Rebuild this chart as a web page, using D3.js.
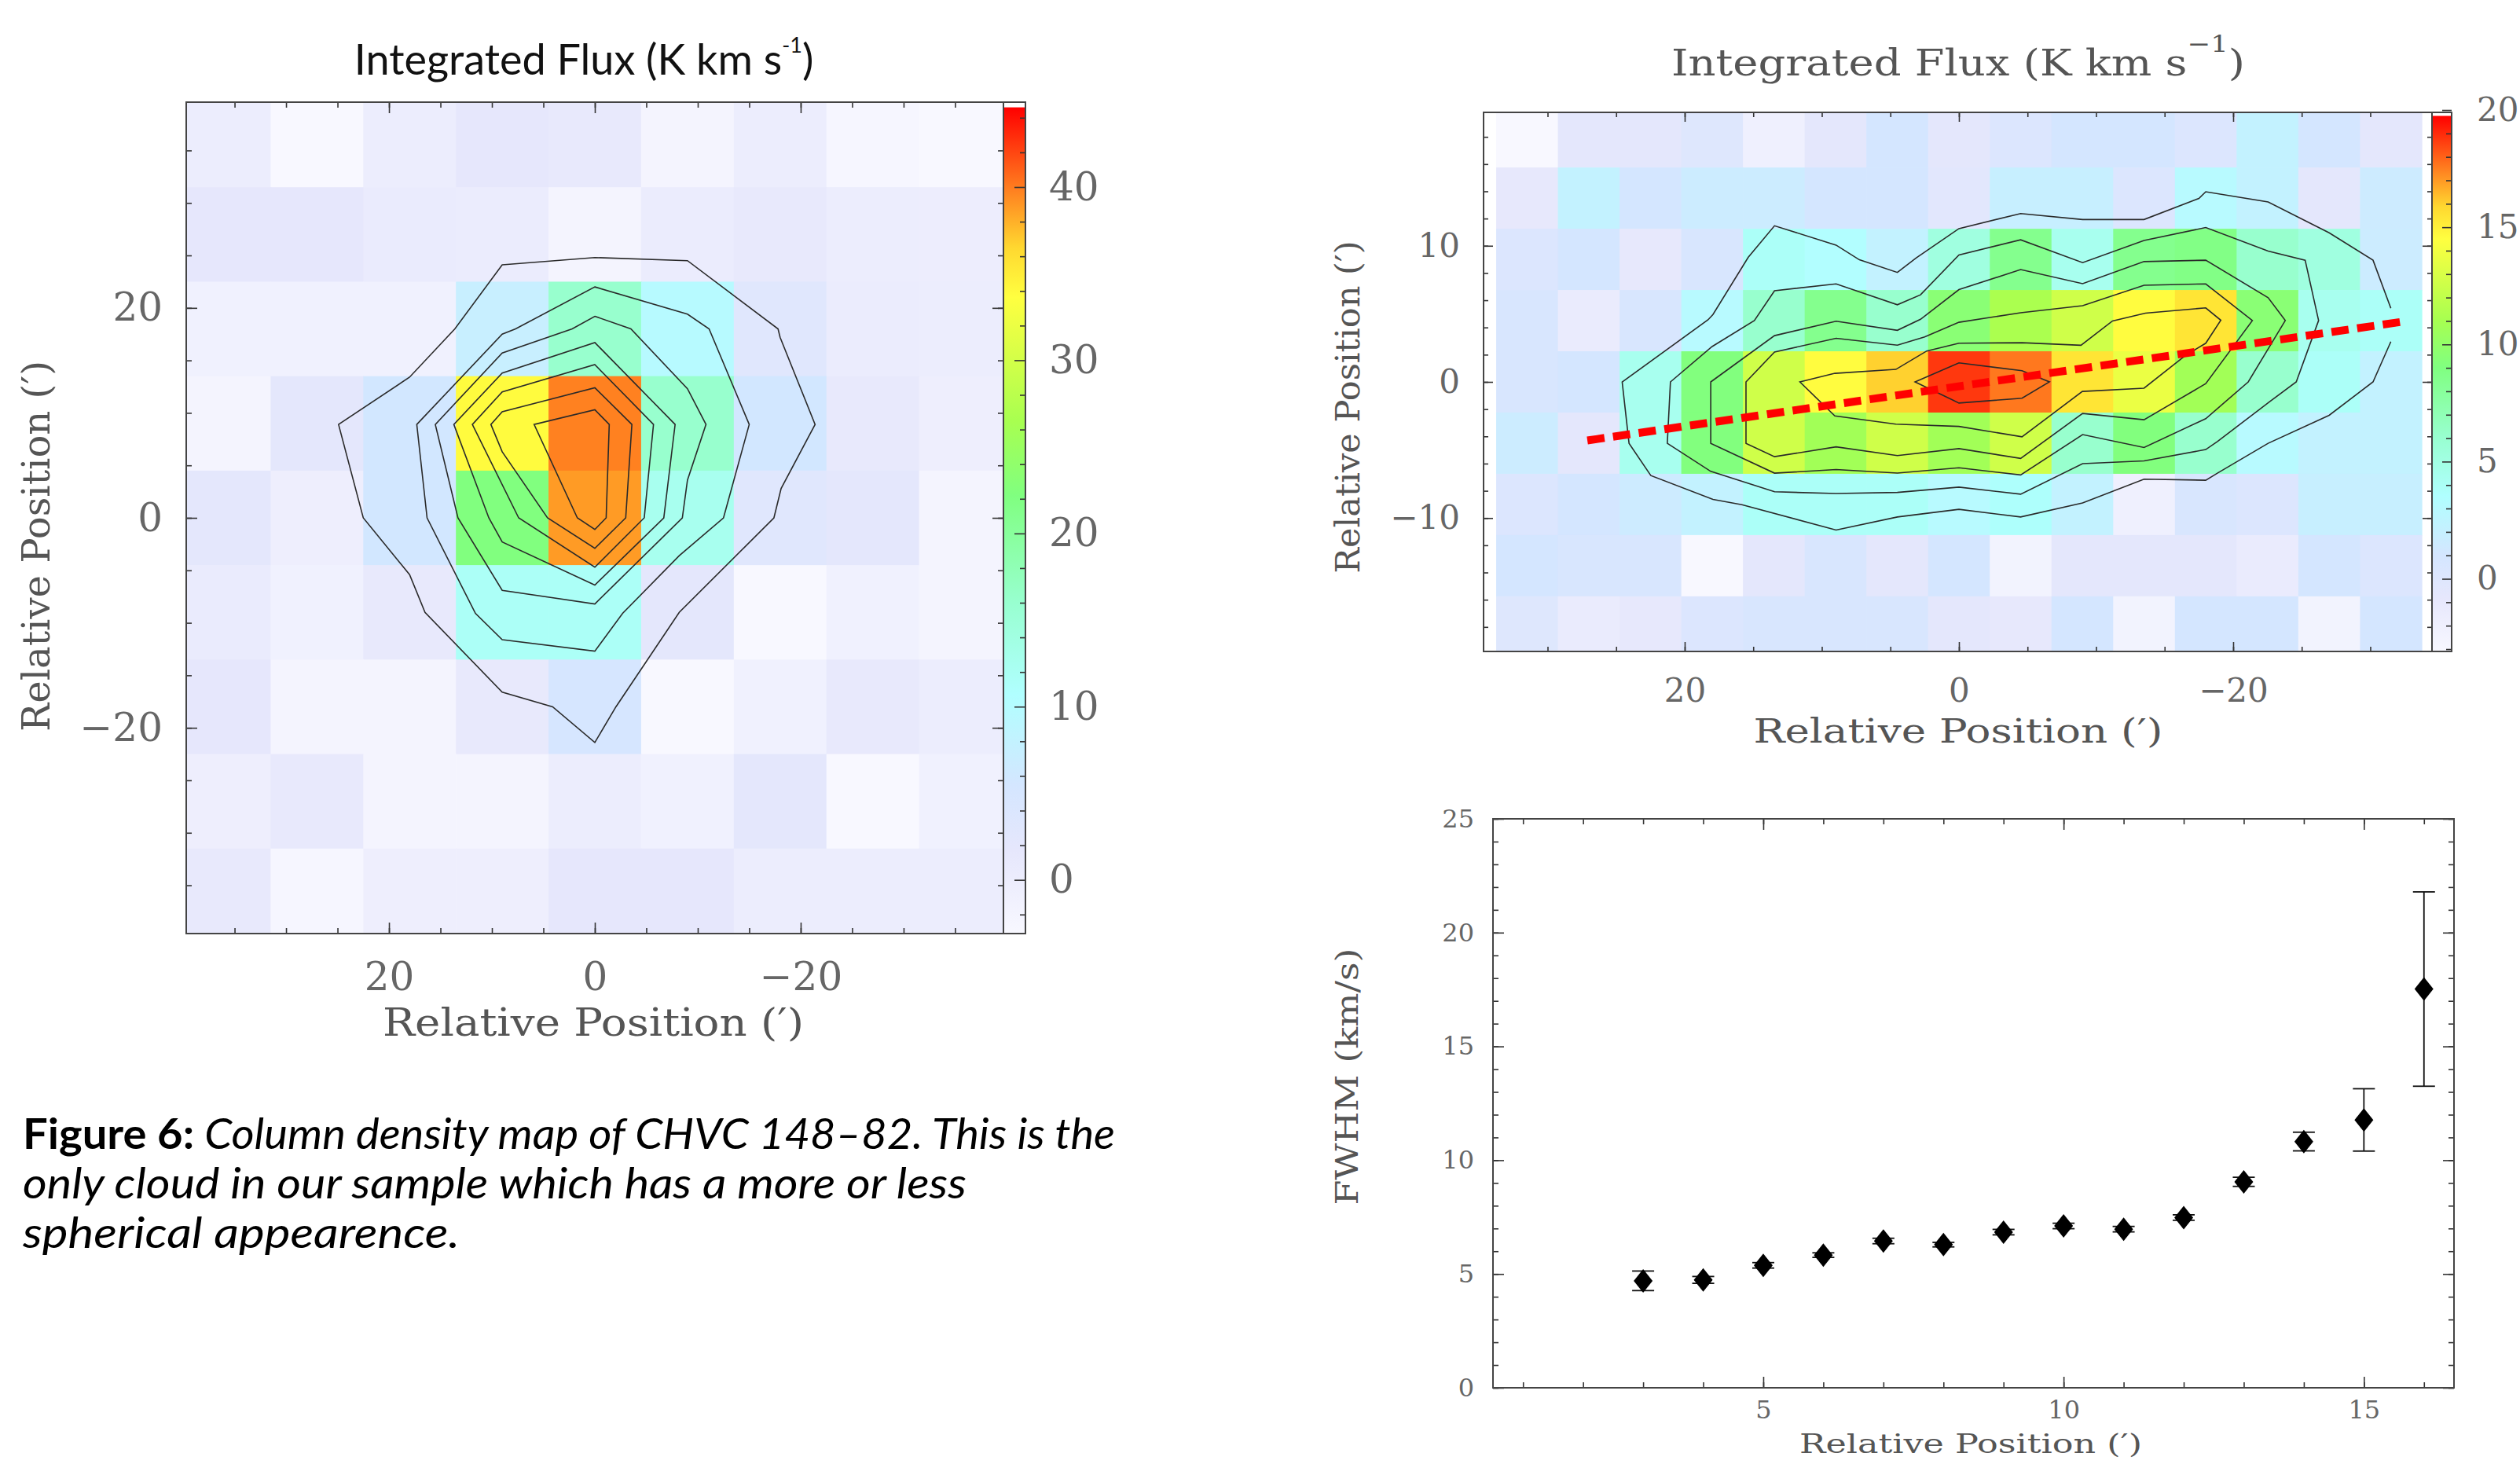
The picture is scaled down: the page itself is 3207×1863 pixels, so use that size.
<!DOCTYPE html>
<meta charset="utf-8">
<style>
body { margin: 0; background: #fff; }
svg { display: block; }
.contour { fill: none; stroke: #2a2a2a; stroke-width: 1.6px; }
.frame { fill: none; stroke: #444; stroke-width: 2px; }
</style>
<svg width="3207" height="1863"></svg>
<script src="https://d3js.org/d3.v7.min.js"></script>
<script>

// ---- left map: 9' pixels, integrated flux (K km/s) ----
var leftX = [36, 27, 18, 9, 0, -9, -18, -27, -36];
var leftY = [36, 27, 18, 9, 0, -9, -18, -27, -36];
var leftFlux = [
  [0.1, -3.1, 0.1, 1.7, 1.2, -2.0, 0.1, -2.6, -3.1],
  [1.7, 1.7, 0.6, 0.4, -2.0, 0.4, 1.2, 0.1, -0.1],
  [-1.0, -1.0, -1.0, 7.3, 16.1, 9.7, 2.9, 0.4, 0.1],
  [-2.0, 2.1, 5.8, 33.9, 39.8, 16.1, 5.8, 1.2, -0.4],
  [2.1, -0.4, 5.8, 22.3, 38.8, 12.5, 2.9, 2.1, -2.0],
  [0.6, -1.0, 1.2, 11.6, 11.6, 2.1, -3.1, -1.0, -2.0],
  [1.7, -2.0, -2.0, 1.2, 5.1, -3.1, -1.0, 1.2, 0.1],
  [-0.4, 1.2, -2.0, -2.0, 0.1, -1.0, 2.1, -3.1, -1.0],
  [1.2, -2.6, -0.4, -0.4, 1.7, 1.7, 0.1, 0.1, 0.1]
];
var leftContours = [
  [[9.0,24.1],[0,24.8],[-9.0,24.5],[-17.8,18],[-18.0,17.2],[-21.4,8.9],[-18.1,2.8],[-17.4,0],[-8.2,-9.0],[-2.05,-18],[0,-21.4],[4.1,-18],[9.0,-16.6],[16.5,-9.0],[18.0,-5.4],[22.5,0],[24.9,8.9],[18.0,13.4],[13.6,18]],
  [[0,22.0],[-9.0,19.4],[-11.1,18],[-15.0,8.9],[-12.5,0],[-8.2,-3.6],[-2.7,-9.1],[0,-12.7],[9.0,-11.6],[11.6,-9.1],[16.3,0],[17.3,8.9],[9.0,17.5],[7.7,18]],
  [[0,19.2],[-3.5,18],[-9.0,12.3],[-10.8,8.9],[-9.0,3.6],[-8.5,0],[0,-8.2],[9.0,-6.9],[13.3,0],[15.5,8.9],[9.0,15.7],[2.2,18]],
  [[0,16.7],[-7.8,8.9],[-6.7,0],[0,-6.4],[9.0,-2.3],[10.3,0],[13.7,8.9],[9.0,13.8]],
  [[0,14.6],[-5.7,8.9],[-4.8,0],[0,-4.7],[7.4,0],[11.9,8.9],[9.0,12.0]],
  [[0,12.4],[-3.6,8.9],[-3.0,0],[0,-2.9],[4.6,0],[9.0,6.3],[10.1,8.9],[9.0,10.1]],
  [[0,10.3],[-1.4,8.9],[-1.1,0],[0,-1.1],[1.7,0],[5.9,8.9]]
];

// ---- right map: 4.5' pixels ----
var rightX = [31.5, 27, 22.5, 18, 13.5, 9, 4.5, 0, -4.5, -9, -13.5, -18, -22.5, -27, -31.5];
var rightY = [18, 13.5, 9, 4.5, 0, -4.5, -9, -13.5, -18];
var rightFlux = [
  [-3.1, -0.6, -0.6, 0.0, -2.0, -0.6, 1.0, -0.6, 0.2, 1.0, 1.0, 0.2, 2.2, 1.0, -0.6],
  [-1.0, 2.2, 1.0, 1.6, 1.6, 1.0, 1.0, -0.4, 1.9, 1.9, 0.2, 3.0, 2.2, -0.6, 1.5],
  [0.2, 1.0, -1.0, 0.6, 3.9, 3.4, 2.2, 5.2, 8.5, 4.4, 8.5, 8.8, 6.1, 5.2, 1.6],
  [0.6, -1.3, 0.6, 3.0, 6.1, 8.5, 6.1, 9.5, 11.2, 12.6, 14.6, 15.4, 9.5, 4.4, 3.9],
  [0.6, 1.0, 4.4, 9.1, 12.6, 14.6, 16.0, 18.75, 17.6, 15.4, 13.7, 10.75, 6.1, 3.9, 2.2],
  [1.6, -0.6, 4.4, 9.1, 12.6, 10.75, 12.6, 10.75, 12.6, 6.1, 9.1, 6.1, 3.0, 2.2, 2.2],
  [0.2, 1.0, 1.5, 2.2, 3.9, 3.9, 3.9, 3.0, 3.7, 2.2, -2.0, 0.6, 0.2, 1.9, 1.9],
  [1.0, 0.6, 0.6, -3.1, -0.6, 0.6, -0.6, 1.0, -2.4, -0.6, -0.6, -0.6, -1.3, 1.0, 0.2],
  [0.0, -1.3, -1.0, 0.2, 0.6, 0.6, 0.6, -0.6, -1.0, 1.0, -2.4, 1.0, 1.0, -2.4, 1.0]
];
var rightContours = [
  [[-31.5,2.96],[-30.2,0],[-27.0,-2.45],[-22.55,-4.51],[-18.85,-6.7],[-18.0,-7.22],[-13.5,-7.14],[-9.02,-8.89],[-4.5,-9.92],[0,-9.36],[4.49,-9.92],[8.96,-10.88],[15.83,-9.02],[17.94,-8.63],[22.47,-6.88],[24.06,-4.51],[24.56,0],[18.3,4.56],[17.94,4.95],[15.37,9.15],[13.45,11.47],[8.96,10.05],[7.26,8.97],[4.49,8.04],[3.13,9.1],[0,11.26],[-4.5,12.37],[-9.02,11.93],[-13.5,11.93],[-17.5,13.48],[-18.0,13.97],[-22.55,13.22],[-27.0,10.95],[-30.2,8.94],[-31.5,5.41]],
  [[21.04,0],[18.0,2.6],[14.92,4.51],[13.45,6.7],[8.96,7.2],[4.49,5.67],[2.8,6.4],[0,9.33],[-4.5,10.44],[-9.02,8.76],[-13.5,10.39],[-18.0,11.34],[-22.55,9.61],[-25.25,8.94],[-26.23,4.51],[-24.6,0],[-22.7,-1.42],[-18.85,-4.38],[-18.0,-4.97],[-13.5,-5.8],[-9.02,-6.0],[-4.5,-8.25],[0,-7.73],[4.49,-8.12],[8.96,-8.2],[13.45,-8.07],[18.1,-6.57],[21.27,-4.51]],
  [[18.1,0],[13.45,3.4],[8.96,4.46],[4.49,3.79],[2.8,4.6],[0,6.78],[-4.5,8.25],[-9.02,7.22],[-13.5,8.84],[-18.0,8.94],[-22.55,6.19],[-23.8,4.51],[-21.1,0],[-18.0,-2.7],[-13.5,-4.82],[-9.02,-3.87],[-4.5,-6.83],[0,-6.31],[4.49,-6.7],[8.96,-6.44],[13.45,-6.7],[18.1,-4.51]],
  [[15.53,0],[13.45,2.2],[8.96,3.2],[4.49,2.7],[2.5,3.3],[0,4.38],[-4.5,5.08],[-9.02,5.6],[-13.5,7.1],[-18.0,7.2],[-21.4,4.51],[-18.0,-0.13],[-13.5,-2.78],[-9.02,-2.32],[-4.5,-5.62],[0,-4.9],[4.49,-5.41],[8.96,-4.77],[13.45,-5.49],[15.53,-4.51]],
  [[11.6,0],[9.05,0.63],[4.6,0.92],[2.35,2.27],[0,2.84],[-4.6,2.88],[-8.9,2.69],[-11.2,4.48],[-13.6,5.05],[-18.0,5.44],[-19.1,4.53],[-18.0,2.84],[-16.5,1.93],[-13.5,-0.46],[-9.0,-0.7],[-4.6,-4.03],[0,-3.27],[4.6,-3.1],[9.05,-2.5]],
  [[3.2,0],[0,1.4],[-4.6,0.82],[-6.6,0],[-4.6,-1.2],[0,-1.55]]
];
var rightContourClosed = [false, true, true, true, true, true];
var fitLine = [[27.1, -4.3], [-32.2, 4.4]];

// ---- FWHM profile ----
var fwhmPos = [3, 4, 5, 6, 7, 8, 9, 10, 11, 12, 13, 14, 15, 16];
var fwhm = [4.70, 4.74, 5.38, 5.83, 6.45, 6.29, 6.84, 7.11, 6.97, 7.48, 9.05, 10.82, 11.77, 17.52];
var fwhmErr = [0.43, 0.15, 0.12, 0.10, 0.12, 0.10, 0.12, 0.12, 0.12, 0.12, 0.20, 0.41, 1.37, 4.27];

// colour table, position along colour bar -> colour
var cmapPos = [0, 0.1, 0.18, 0.29, 0.4, 0.53, 0.62, 0.77, 0.83, 0.9, 1];
var cmapCol = ["#f8f8ff", "#e6e7fc", "#d4e6ff", "#b0ffff", "#98ffd0", "#80ff80", "#a8ff50", "#ffff40", "#ffd830", "#ff8020", "#ff0000"];

var captionLines = [
  ["Figure 6:", " Column density map of CHVC 148\u201382. This is the"],
  ["", "only cloud in our sample which has a more or less"],
  ["", "spherical appearence."]
];

var svg = d3.select("svg");
var cmap = d3.scaleLinear().domain(cmapPos).range(cmapCol).clamp(true);
function fluxColor(lo, hi) {
  var f = d3.scaleLinear().domain([lo, hi]).range([0, 1]).clamp(true);
  return function(v) { return cmap(f(v)); };
}

var defs = svg.append("defs");
var grad = defs.append("linearGradient").attr("id", "cbar")
    .attr("x1", 0).attr("y1", 1).attr("x2", 0).attr("y2", 0);
grad.selectAll("stop").data(cmapPos).join("stop")
    .attr("offset", function(d) { return d; })
    .attr("stop-color", function(d, i) { return cmapCol[i]; });

function clip(id, x0, y0, x1, y1) {
  defs.append("clipPath").attr("id", id).append("rect")
      .attr("x", x0).attr("y", y0).attr("width", x1 - x0).attr("height", y1 - y0);
}

function drawCells(g, xs, ys, xc, yc, vals, step, fill) {
  var cells = [];
  vals.forEach(function(row, i) {
    row.forEach(function(v, j) { cells.push({x: xc[j], y: yc[i], v: v}); });
  });
  g.selectAll("rect").data(cells).join("rect")
      .attr("x", function(d) { return Math.min(xs(d.x - step / 2), xs(d.x + step / 2)); })
      .attr("y", function(d) { return ys(d.y + step / 2); })
      .attr("width", function(d) { return Math.abs(xs(d.x - step / 2) - xs(d.x + step / 2)) + 0.7; })
      .attr("height", function(d) { return ys(d.y - step / 2) - ys(d.y + step / 2) + 0.7; })
      .attr("fill", function(d) { return d3.color(fill(d.v)).formatHex(); });
}

// inward ticks, optional labels
function ticks(g, scale, orient, pos, values, len, fmt, pad, fs, family) {
  var make = {bottom: d3.axisBottom, top: d3.axisTop, left: d3.axisLeft, right: d3.axisRight}[orient];
  var ax = make(scale).tickValues(values).tickSizeInner(-len).tickSizeOuter(0)
      .tickPadding(pad || 0).tickFormat(fmt || "");
  var t = g.append("g")
      .attr("transform", (orient === "bottom" || orient === "top") ? "translate(0," + pos + ")" : "translate(" + pos + ",0)")
      .attr("color", "#333")
      .call(ax);
  t.select(".domain").remove();
  t.selectAll("line").attr("stroke-width", 1.6);
  if (!fmt) t.selectAll("text").remove();
  t.selectAll("text").attr("font-size", fs).attr("font-family", family || "DejaVu Serif")
      .attr("fill", "#666");
  return t;
}

function frameAxes(g, xs, ys, o) {
  var r = xs.range(), b = ys.range();
  var x0 = Math.min(r[0], r[1]), x1 = Math.max(r[0], r[1]);
  var y0 = Math.min(b[0], b[1]), y1 = Math.max(b[0], b[1]);
  var fmt = d3.format("d");
  ["bottom", "top"].forEach(function(s) {
    var p = s === "bottom" ? y1 : y0;
    ticks(g, xs, s, p, o.xMinor, o.minor);
    ticks(g, xs, s, p, o.xMajor, o.major, s === "bottom" ? fmt : null, o.xPad, o.fs);
  });
  ["left", "right"].forEach(function(s) {
    var p = s === "left" ? x0 : x1;
    ticks(g, ys, s, p, o.yMinor, o.minor);
    ticks(g, ys, s, p, o.yMajor, o.major, s === "left" ? fmt : null, o.yPad, o.fs);
  });
  g.append("rect").attr("class", "frame")
      .attr("x", x0).attr("y", y0).attr("width", x1 - x0).attr("height", y1 - y0);
}

function label(g, txt, x, y, fs, len, rot, family, fill) {
  var t = g.append("text")
      .attr("transform", "translate(" + x + "," + y + ")" + (rot ? " rotate(-90)" : ""))
      .attr("text-anchor", "middle")
      .attr("font-family", family || "DejaVu Serif")
      .attr("font-size", fs)
      .attr("fill", fill || "#555")
      .text(txt);
  if (len) t.attr("textLength", len).attr("lengthAdjust", "spacingAndGlyphs");
  return t;
}

function colourBar(g, x0, x1, ys, lo, hi, values, major, minorLen, majorLen, pad, fs) {
  g.append("rect").attr("x", x0).attr("width", x1 - x0)
      .attr("y", ys(hi)).attr("height", ys(lo) - ys(hi))
      .attr("fill", "url(#cbar)");
  ticks(g, ys, "right", x1, values.filter(function(v) { return major.indexOf(v) < 0; }), minorLen);
  ticks(g, ys, "right", x1, major, majorLen, d3.format("d"), pad, fs);
  var d = ys.domain();
  g.append("rect").attr("class", "frame")
      .attr("x", x0).attr("y", ys(d[1])).attr("width", x1 - x0).attr("height", ys(d[0]) - ys(d[1]));
}

// ================= left map =================
var xL = d3.scaleLinear().domain([39.7, -39.7]).range([237, 1277]);
var yL = d3.scaleLinear().domain([-39.6, 39.6]).range([1188, 130]);
var gL = svg.append("g");
clip("clipL", 237, 130, 1277, 1188);
drawCells(gL.append("g").attr("clip-path", "url(#clipL)"), xL, yL, leftX, leftY, leftFlux, 9, fluxColor(-3.1, 44.6));
var lineL = d3.line().x(function(d) { return xL(d[0]); }).y(function(d) { return yL(d[1]); }).curve(d3.curveLinearClosed);
gL.append("g").attr("clip-path", "url(#clipL)").selectAll("path").data(leftContours).join("path")
    .attr("class", "contour").attr("d", lineL);
frameAxes(gL, xL, yL, {
  xMinor: d3.range(-35, 36, 5), xMajor: [-20, 0, 20],
  yMinor: d3.range(-35, 36, 5), yMajor: [-20, 0, 20],
  minor: 7, major: 14, xPad: 36, yPad: 30, fs: 50
});
var cbL = d3.scaleLinear().domain([-3.1, 44.9]).range([1188, 130]);
colourBar(gL, 1277, 1305, cbL, -3.1, 44.6, d3.range(-2, 45, 2), [0, 10, 20, 30, 40], 7, 14, 30, 50);

var tL = gL.append("text").attr("x", 743).attr("y", 95).attr("text-anchor", "middle")
    .attr("font-family", "Lato").attr("font-size", 54).attr("fill", "#111");
tL.append("tspan").text("Integrated Flux (K km s");
tL.append("tspan").attr("dy", -28).attr("font-size", 27).text("-1");
tL.append("tspan").attr("dy", 28).text(")");
label(gL, "Relative Position (\u2032)", 755, 1318, 48, 536);
label(gL, "Relative Position (\u2032)", 63, 695, 48, 472, true);

// ================= right map =================
var xR = d3.scaleLinear().domain([34.67, -34.5]).range([1888, 3095]);
var yR = d3.scaleLinear().domain([-19.8, 19.8]).range([829, 143]);
var gR = svg.append("g");
clip("clipR", 1888, 143, 3095, 829);
drawCells(gR.append("g").attr("clip-path", "url(#clipR)"), xR, yR, rightX, rightY, rightFlux, 4.5, fluxColor(-3.1, 19.75));
var lineR = d3.line().x(function(d) { return xR(d[0]); }).y(function(d) { return yR(d[1]); });
gR.append("g").attr("clip-path", "url(#clipR)").selectAll("path").data(rightContours).join("path")
    .attr("class", "contour")
    .attr("d", function(d, i) { return lineR.curve(rightContourClosed[i] ? d3.curveLinearClosed : d3.curveLinear)(d); });
gR.append("path").datum(fitLine)
    .attr("d", lineR.curve(d3.curveLinear))
    .attr("fill", "none").attr("stroke", "#ff0000").attr("stroke-width", 10)
    .attr("stroke-dasharray", "22,11");
frameAxes(gR, xR, yR, {
  xMinor: d3.range(-30, 31, 5), xMajor: [-20, 0, 20],
  yMinor: d3.range(-18, 19, 2), yMajor: [-10, 0, 10],
  minor: 6, major: 12, xPad: 34, yPad: 30, fs: 42
});
var cbR = d3.scaleLinear().domain([-3.1, 19.9]).range([829, 143]);
colourBar(gR, 3095, 3120, cbR, -3.1, 19.75, d3.range(-3, 20, 1), [0, 5, 10, 15, 20], 7, 12, 32, 42);

var tR = gR.append("text").attr("x", 2492).attr("y", 96).attr("text-anchor", "middle")
    .attr("font-family", "DejaVu Serif").attr("font-size", 46).attr("fill", "#555")
    .attr("textLength", 730).attr("lengthAdjust", "spacingAndGlyphs");
tR.append("tspan").text("Integrated Flux (K km s");
tR.append("tspan").attr("dy", -30).attr("font-size", 30).text("\u22121");
tR.append("tspan").attr("dy", 30).text(")");
label(gR, "Relative Position (\u2032)", 2492, 945, 42, 521);
label(gR, "Relative Position (\u2032)", 1730, 518, 42, 423, true);

// ================= FWHM profile =================
var xS = d3.scaleLinear().domain([0.5, 16.5]).range([1900, 3123]);
var yS = d3.scaleLinear().domain([0, 25]).range([1766, 1042]);
var gS = svg.append("g");
frameAxes(gS, xS, yS, {
  xMinor: d3.range(1, 17, 1), xMajor: [5, 10, 15],
  yMinor: d3.range(0, 26, 1), yMajor: [0, 5, 10, 15, 20, 25],
  minor: 7, major: 14, xPad: 16, yPad: 24, fs: 32
});
var pts = fwhmPos.map(function(p, i) { return {x: p, v: fwhm[i], e: fwhmErr[i]}; });
var eb = gS.append("g").attr("stroke", "#111").attr("stroke-width", 1.8);
eb.selectAll("line.v").data(pts).join("line").attr("class", "v")
    .attr("x1", function(d) { return xS(d.x); }).attr("x2", function(d) { return xS(d.x); })
    .attr("y1", function(d) { return yS(d.v - d.e); }).attr("y2", function(d) { return yS(d.v + d.e); });
[-1, 1].forEach(function(s) {
  eb.selectAll("line.c" + (s + 1)).data(pts).join("line").attr("class", "c" + (s + 1))
      .attr("x1", function(d) { return xS(d.x) - 14; }).attr("x2", function(d) { return xS(d.x) + 14; })
      .attr("y1", function(d) { return yS(d.v + s * d.e); }).attr("y2", function(d) { return yS(d.v + s * d.e); });
});
gS.append("g").selectAll("path").data(pts).join("path")
    .attr("fill", "#000")
    .attr("d", function(d) {
      var p = d3.path(), cx = xS(d.x), cy = yS(d.v);
      p.moveTo(cx, cy - 15); p.lineTo(cx + 12, cy); p.lineTo(cx, cy + 15); p.lineTo(cx - 12, cy); p.closePath();
      return p.toString();
    });
label(gS, "Relative Position (\u2032)", 2508, 1849, 34, 436);
label(gS, "FWHM (km/s)", 1728, 1370, 40, 327, true);

// ================= caption =================
var capLens = [1390, 1201, 556];
captionLines.forEach(function(l, i) {
  var t = svg.append("text").attr("x", 29).attr("y", 1462 + i * 63)
      .attr("font-family", "Lato").attr("font-size", 54).attr("fill", "#000")
      .attr("textLength", capLens[i]).attr("lengthAdjust", "spacingAndGlyphs");
  if (l[0]) t.append("tspan").attr("font-weight", "bold").text(l[0]);
  t.append("tspan").attr("font-style", "italic").text(l[1]);
});

</script>
